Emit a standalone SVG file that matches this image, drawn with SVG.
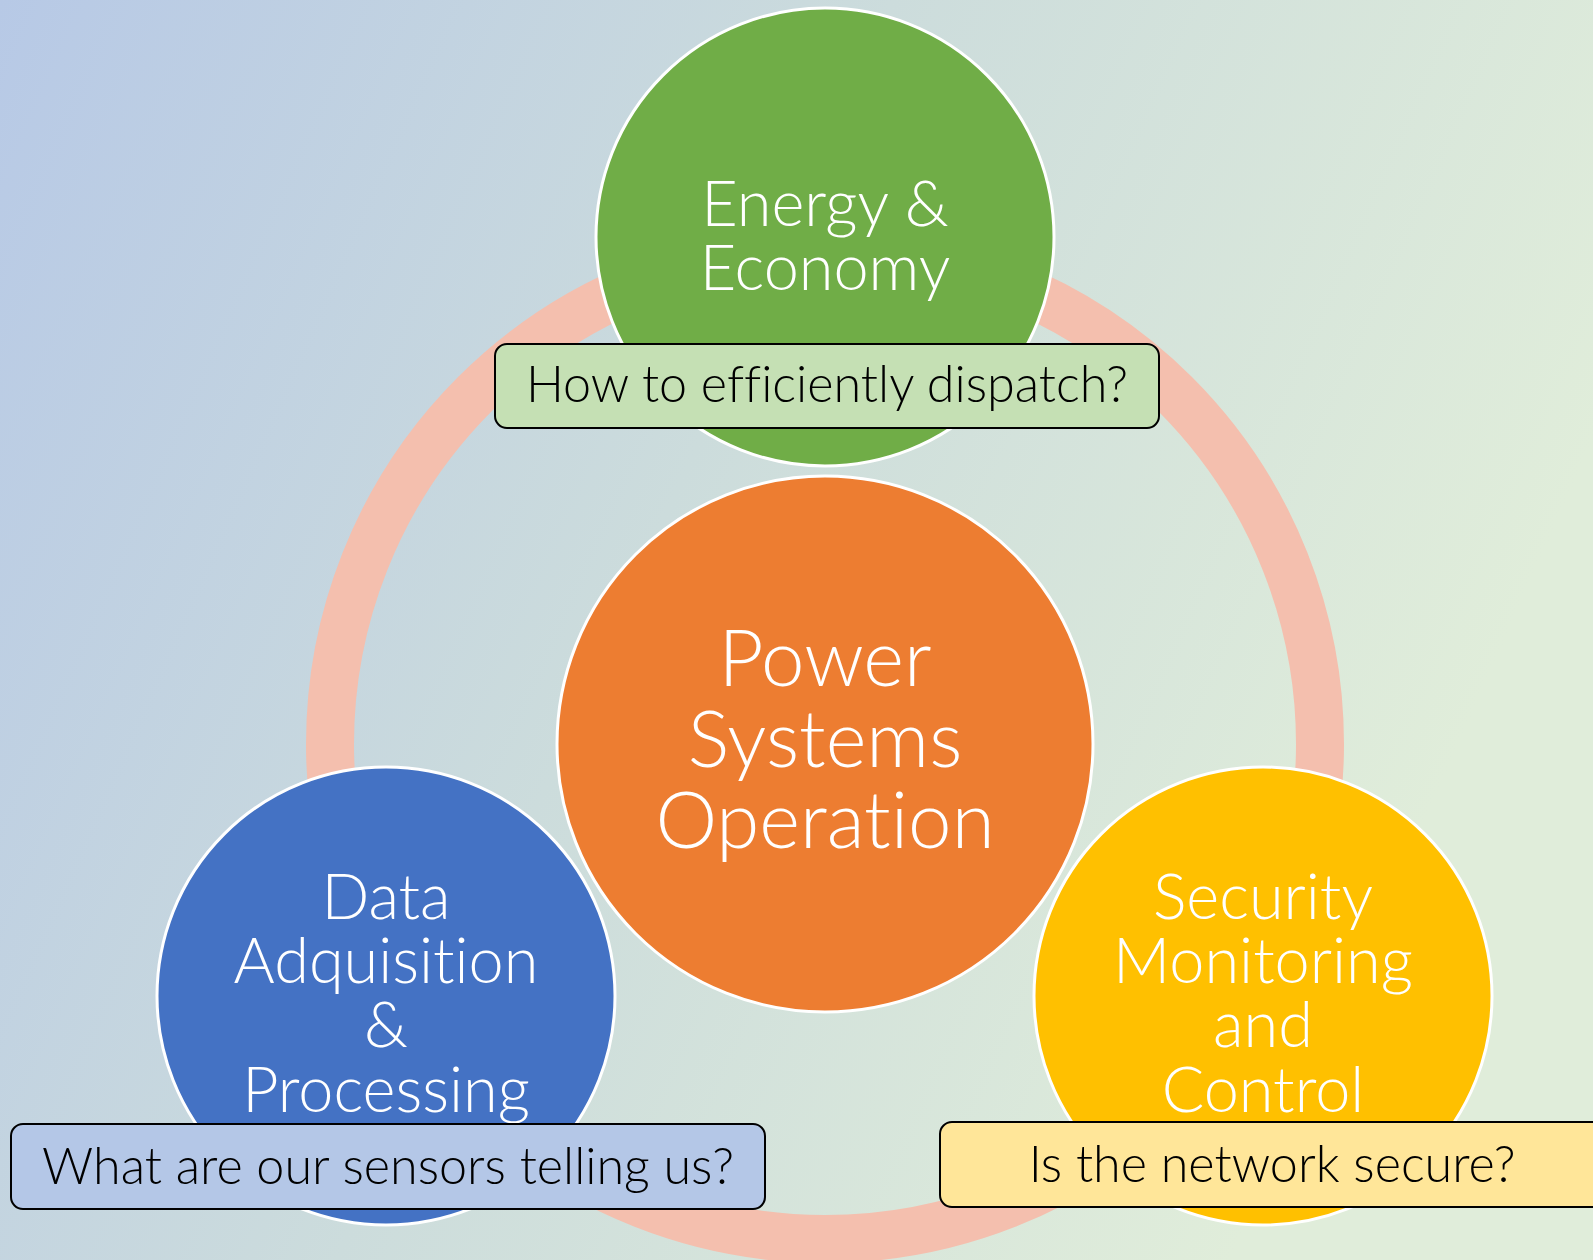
<svg xmlns="http://www.w3.org/2000/svg" width="1593" height="1260" viewBox="0 0 1593 1260">
<defs>
<linearGradient id="bg" x1="0" y1="0" x2="1" y2="0.35">
<stop offset="0" stop-color="#B7C9E6"/>
<stop offset="0.5" stop-color="#CCDCDC"/>
<stop offset="1" stop-color="#E0EDDA"/>
</linearGradient>
<style>
.node{stroke:#FFFFFF;stroke-width:3}
.lbl{fill:#FFFFFF;font-family:Lato,"Noto Sans",sans-serif;font-weight:300;text-anchor:middle;font-variant-ligatures:none}
.box{stroke:#000000;stroke-width:2}
.q{fill:#000000;font-family:Lato,"Noto Sans",sans-serif;font-weight:300;font-size:50.3px;text-anchor:middle;font-variant-ligatures:none}
</style>
</defs>
<rect width="1593" height="1260" fill="url(#bg)"/>
<g id="connectors">
<circle cx="825" cy="744" r="495" fill="none" stroke="#F4BFAE" stroke-width="48"/>
</g>
<g id="node-center">
<circle class="node" cx="825" cy="744" r="268" fill="#ED7D31"/>
<text class="lbl" font-size="78" x="825" y="686">Power</text>
<text class="lbl" font-size="78" x="825" y="767">Systems</text>
<text class="lbl" font-size="78" x="825" y="848">Operation</text>
</g>
<g id="node-energy">
<circle class="node" cx="825" cy="237" r="229" fill="#70AD47"/>
<text class="lbl" font-size="63" x="825" y="226">Energy &amp;</text>
<text class="lbl" font-size="63" x="825" y="290">Economy</text>
</g>
<g id="node-data">
<circle class="node" cx="386" cy="996" r="229" fill="#4472C4"/>
<text class="lbl" font-size="63" x="386" y="919">Data</text>
<text class="lbl" font-size="63" x="386" y="983">Adquisition</text>
<text class="lbl" font-size="63" x="386" y="1047">&amp;</text>
<text class="lbl" font-size="63" x="386" y="1112">Processing</text>
</g>
<g id="node-security">
<circle class="node" cx="1263" cy="996" r="229" fill="#FFC000"/>
<text class="lbl" font-size="63" x="1263" y="919">Security</text>
<text class="lbl" font-size="63" x="1263" y="983">Monitoring</text>
<text class="lbl" font-size="63" x="1263" y="1047">and</text>
<text class="lbl" font-size="63" x="1263" y="1112">Control</text>
</g>
<g id="q-energy">
<rect class="box" x="495" y="344" width="664" height="84" rx="12" fill="#C5E0B4"/>
<text class="q" x="827" y="402">How to efficiently dispatch?</text>
</g>
<g id="q-data">
<rect class="box" x="11" y="1124" width="754" height="85" rx="12" fill="#B4C7E7"/>
<text class="q" x="388" y="1184">What are our sensors telling us?</text>
</g>
<g id="q-security">
<rect class="box" x="940" y="1122" width="680" height="85" rx="12" fill="#FFE699"/>
<text class="q" x="1272" y="1182">Is the network secure?</text>
</g>
</svg>
